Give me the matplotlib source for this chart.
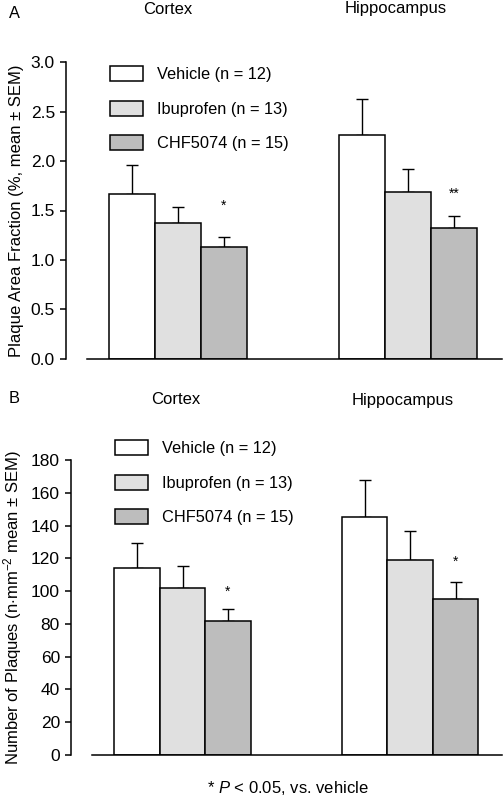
import numpy as np
import matplotlib
matplotlib.use("Agg")
import matplotlib.pyplot as plt

plt.rcParams['font.family'] = ['Liberation Sans', 'DejaVu Sans']
plt.rcParams['mathtext.fontset'] = 'custom'
plt.rcParams['mathtext.rm'] = 'Liberation Sans'
plt.rcParams['mathtext.it'] = 'Liberation Sans:italic'

regions = ["Cortex", "Hippocampus"]
groups = ["Vehicle (n = 12)", "Ibuprofen (n = 13)", "CHF5074 (n = 15)"]
colors = ["#ffffff", "#e0e0e0", "#bdbdbd"]

# panel A: plaque area fraction (%), rows = group, cols = region
area_mean = [[1.67, 2.26], [1.37, 1.69], [1.13, 1.32]]
area_sem = [[0.29, 0.37], [0.17, 0.23], [0.10, 0.12]]
area_stars = ["*", "**"]
area_star_y = [1.62, 1.74]

# panel B: number of plaques (n/mm^2)
count_mean = [[114, 145], [102, 119], [82, 95]]
count_sem = [[15.5, 22.5], [13.5, 17.5], [7, 10.5]]
count_stars = ["*", "*"]
count_star_y = [104, 122]

W, H = 503, 799
fig = plt.figure(figsize=(W / 100, H / 100), dpi=100)

def px_axes(left, right, top, bottom):
    return fig.add_axes([left / W, 1 - bottom / H, (right - left) / W, (bottom - top) / H])

def panel(ax, means, sems, stars, star_y, ylim, yticks, fmt, ylabel, unit_px, x0_px,
          spine_px, leg_anchor):
    centers = np.array([0, 5])
    for i in range(3):
        xs = centers + (i - 1)
        ax.bar(xs, means[i], width=1, color=colors[i], edgecolor="black",
               linewidth=1.1, label=groups[i], zorder=2)
        ax.errorbar(xs, means[i], yerr=[[0, 0], sems[i]], fmt="none", ecolor="black",
                    elinewidth=1.0, capsize=4.5, capthick=1.0, zorder=1)
    for j in range(2):
        ax.text(centers[j] + 1, star_y[j], stars[j], ha="center", va="top", fontsize=10)
    ax.set_xlim((spine_px[0] - x0_px) / unit_px, (502 - x0_px) / unit_px)
    ax.set_ylim(*ylim)
    ax.set_yticks(yticks)
    ax.set_yticklabels([fmt.format(v) for v in yticks], fontsize=12.5)
    ax.set_xticks([])
    for s in ["top", "right"]:
        ax.spines[s].set_visible(False)
    ax.spines["bottom"].set_bounds((spine_px[1] - x0_px) / unit_px, (502 - x0_px) / unit_px)
    ax.spines["left"].set_linewidth(1.1)
    ax.spines["bottom"].set_linewidth(1.1)
    ax.tick_params(axis="y", length=4, width=1.1, pad=4)
    ax.set_ylabel(ylabel, fontsize=12, labelpad=5)
    ax.legend(loc="upper left", bbox_to_anchor=leg_anchor, frameon=False,
              fontsize=11.8, handlelength=2.0, handleheight=1.05, borderpad=0,
              labelspacing=1.12, handletextpad=0.85, borderaxespad=0)

# panel A
axA = px_axes(66, 502, 62, 359)
panel(axA, area_mean, area_sem, area_stars, area_star_y, (0, 3),
      [0, 0.5, 1.0, 1.5, 2.0, 2.5, 3.0], "{:.1f}",
      "Plaque Area Fraction (%, mean \u00b1 SEM)", 46, 178, (66, 87),
      ((110 - 66) / 436, (359 - 66) / 297))
# panel B
axB = px_axes(71, 502, 460, 755)
panel(axB, count_mean, count_sem, count_stars, count_star_y, (0, 180),
      list(range(0, 181, 20)), "{:d}",
      r"Number of Plaques (n$\cdot$mm$^{-2}$ mean $\pm$ SEM)", 45.5, 182.5, (71, 92),
      ((115 - 71) / 431, (755 - 440) / 295))

# region titles and panel letters
title_pos = [((168, 9), (396, 9)), ((176, 400), (403, 400))]
for (letter, ly), pos in zip([("A", 13), ("B", 398)], title_pos):
    fig.text(9 / W, 1 - ly / H, letter, fontsize=11.8, ha="left", va="center")
    for name, (x, y) in zip(regions, pos):
        fig.text(x / W, 1 - y / H, name, fontsize=12, ha="center", va="center")

fig.text(288 / W, 1 - 788 / H, r"* $\mathit{P}$ < 0.05, vs. vehicle", fontsize=12,
         ha="center", va="center")

fig.savefig("out.png", dpi=100)
